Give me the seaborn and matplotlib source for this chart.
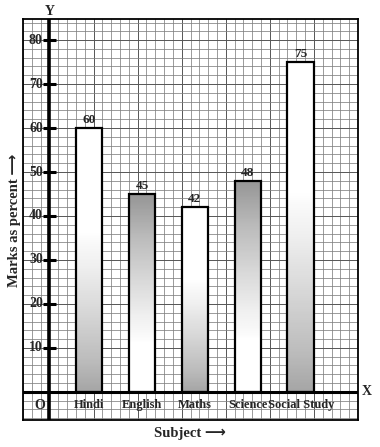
import numpy as np
import matplotlib
matplotlib.use('Agg')
import matplotlib.pyplot as plt
import seaborn as sns
import pandas as pd

# Data
subjects = ['Hindi', 'English', 'Maths', 'Science', 'Social Study']
marks = [60, 45, 42, 48, 75]
yticks = [10, 20, 30, 40, 50, 60, 70, 80]
# which bars are shaded at the bottom (True) or at the top (False)
dark_bottom = [True, False, True, False, True]

sns.set_style('white')
serif = ['Liberation Serif', 'DejaVu Sans']
plt.rcParams['font.family'] = serif

# x in graph-paper squares, y in percent
xpos = 4.5 + 6 * np.arange(len(subjects))
df = pd.DataFrame({'pos': xpos, 'marks': marks})

fig = plt.figure(figsize=(3.8, 4.47), dpi=100)
ax = fig.add_axes([23 / 380, 27 / 447, 335 / 380, 401 / 447])

# graph paper
for x in np.arange(-3, 36, 1):
    major = (x % 5 == 0)
    ax.axvline(x, color='#555' if major else '#808080', lw=0.7 if major else 0.55, zorder=0)
for y in np.arange(-6, 85, 2):
    major = (y % 10 == 0)
    ax.axhline(y, color='#555' if major else '#808080', lw=0.7 if major else 0.55, zorder=0)

sns.barplot(data=df, x='pos', y='marks', native_scale=True, width=0.5,
            errorbar=None, facecolor='none', edgecolor='black', linewidth=1.6,
            ax=ax, zorder=3)

# shaded fills, clipped to each bar (row 0 = bottom of bar)
grad = np.linspace(0, 1, 200)[:, None]
for patch, bottom, m in zip(ax.patches, dark_bottom, marks):
    x0, y0 = patch.get_x(), patch.get_y()
    w, h = patch.get_width(), patch.get_height()
    if bottom:
        shade = np.clip((0.6 - grad) / 0.6, 0, 1) ** 0.8 * 0.45
    else:
        shade = np.clip((grad - 0.25) / 0.75, 0, 1) ** 0.8 * 0.5
    im = ax.imshow(shade, cmap='Greys', vmin=0, vmax=1, origin='lower',
                   extent=[x0, x0 + w, y0, y0 + h], aspect='auto', zorder=2,
                   interpolation='bilinear')
    im.set_clip_path(patch)
    ax.text(x0 + w / 2, y0 + h + 0.4, str(m), ha='center', va='bottom',
            fontsize=9.5, fontweight='bold', family=serif)

ax.set_xlim(-3, 35)
ax.set_ylim(-6.4, 84.8)

# axes lines and ticks
ax.axvline(0, color='black', lw=2.6, zorder=4)
ax.axhline(0, color='black', lw=2.2, zorder=4)
ax.hlines(yticks, -0.7, 0.7, color='black', lw=2.2, zorder=4)
for t in yticks:
    ax.text(-0.75, t, str(t), ha='right', va='center', fontsize=10,
            fontweight='bold', family=serif)

for p, s in zip(xpos, subjects):
    ax.text(p, -3.1, s, ha='center', va='center', fontsize=9,
            fontweight='bold', family=serif)
ax.text(-1.15, -3.1, 'O', ha='center', va='center', fontsize=10,
        fontweight='bold', family=serif)
ax.text(0, 86.4, 'Y', ha='center', va='center', fontsize=10,
        fontweight='bold', family=serif, clip_on=False)
ax.text(36, 0, 'X', ha='center', va='center', fontsize=10,
        fontweight='bold', family=serif, clip_on=False)

ax.set_xticks([])
ax.set_yticks([])
ax.set_xlabel('')
ax.set_ylabel('')
for sp in ax.spines.values():
    sp.set_visible(True)
    sp.set_color('black')
    sp.set_linewidth(1.3)

fig.text(190 / 380, 1 - 434 / 447, 'Subject \u27f6', ha='center', va='center',
         fontsize=10.5, fontweight='bold', family=serif)
fig.text(15 / 380, 1 - 220 / 447, 'Marks as percent \u27f6', ha='center',
         va='center', rotation=90, fontsize=10.5, fontweight='bold', family=serif)

fig.savefig('out.png', dpi=100)
